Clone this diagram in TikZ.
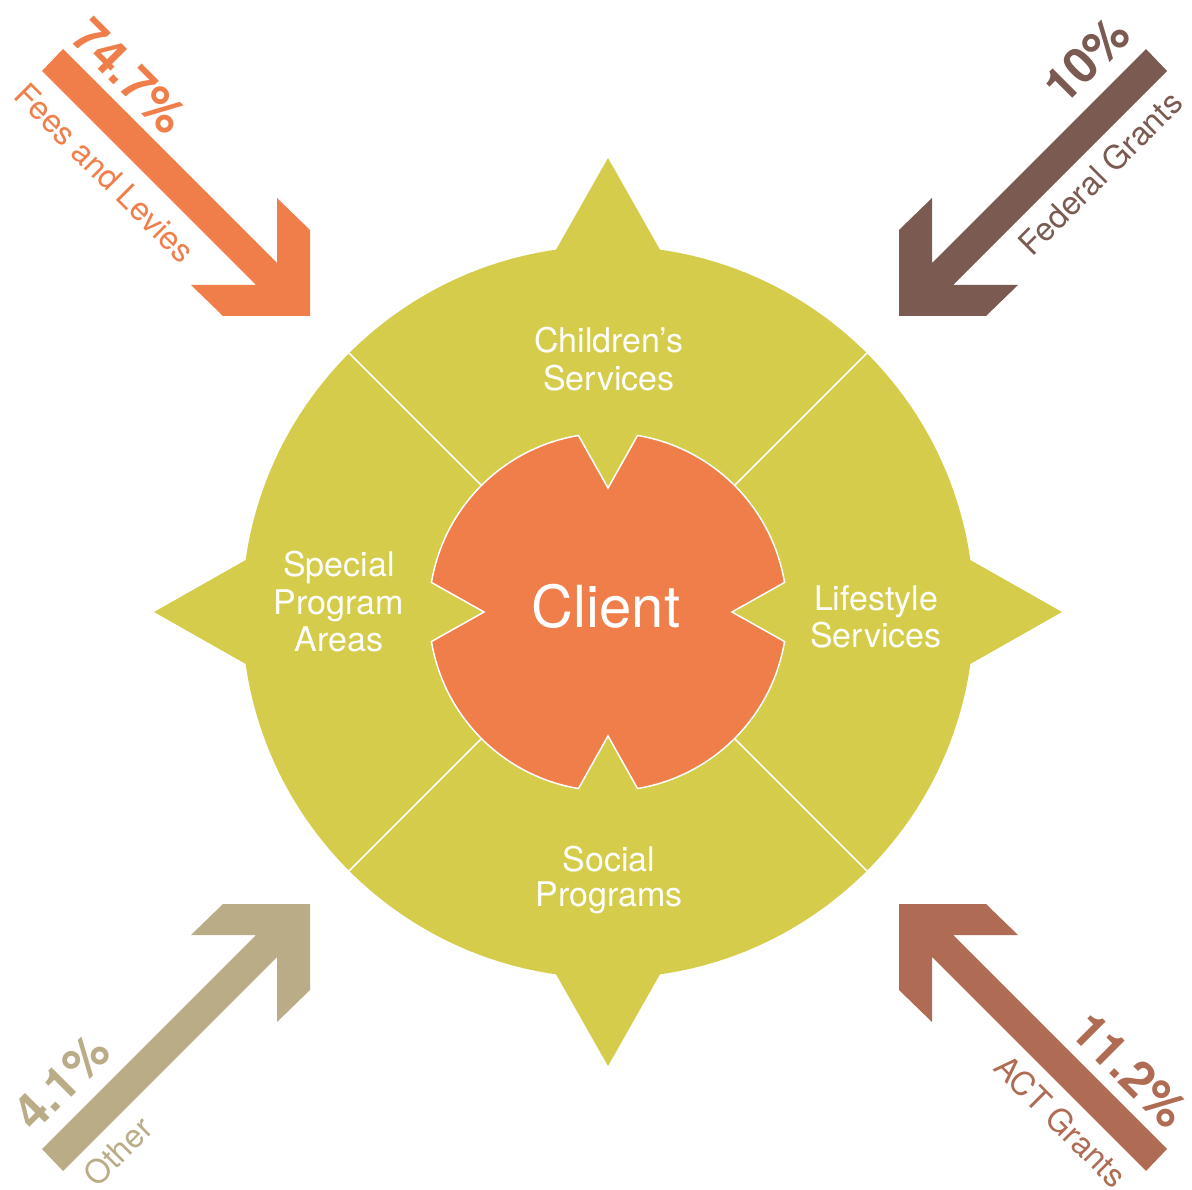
\documentclass[tikz,border=0pt]{standalone}
\usepackage{fontspec}
\setmainfont{TeX Gyre Heros}
\definecolor{cGreen}{HTML}{D4CC4A}
\definecolor{cOrange}{HTML}{F07E4B}
\definecolor{cBrown}{HTML}{7A5A51}
\definecolor{cTan}{HTML}{BBAC88}
\definecolor{cRust}{HTML}{AF6B53}
\begin{document}
\begin{tikzpicture}[x=1pt,y=-1pt,
  lbl/.style={text=white, align=center, inner sep=0pt, font=\fontsize{34}{37.5}\selectfont},
  pct/.style={inner sep=0pt, font=\bfseries\fontsize{49}{49}\selectfont},
  src/.style={inner sep=0pt, font=\fontsize{32.5}{32.5}\selectfont},
  divider/.style={white, line width=1.5pt}]
\useasboundingbox (0,0) rectangle (1192,1190);
% source arrows
\fill[cOrange] (63,49) -- (277,263) -- (277,198) -- (310,230) -- (310,316) -- (223,316) -- (191,285) -- (256,285) -- (42,71) -- cycle;
\fill[cBrown] (1146,49) -- (932,263) -- (932,198) -- (899,230) -- (899,316) -- (986,316) -- (1018,285) -- (953,285) -- (1167,71) -- cycle;
\fill[cTan] (63,1171) -- (277,957) -- (277,1022) -- (310,990) -- (310,904) -- (223,904) -- (191,935) -- (256,935) -- (42,1149) -- cycle;
\fill[cRust] (1146,1171) -- (932,957) -- (932,1022) -- (899,990) -- (899,904) -- (986,904) -- (1018,935) -- (953,935) -- (1167,1149) -- cycle;
% arrow labels
\node[pct, text=cOrange, rotate=-45] (p1) at (129.5,76.5) {74.7\%};
\node[src, text=cOrange, rotate=-45] (s1) at (105,173) {Fees and Levies};
\node[pct, text=cBrown, rotate=45] (p2) at (1086.5,60) {10\%};
\node[src, text=cBrown, rotate=45] (s2) at (1100,173.3) {Federal Grants};
\node[pct, text=cTan, rotate=45] (p3) at (61.7,1082.5) {4.1\%};
\node[src, text=cTan, rotate=45] (s3) at (118,1151.5) {Other};
\node[pct, text=cRust, rotate=-45] (p4) at (1130,1070) {11.2\%};
\node[src, text=cRust, rotate=-45] (s4) at (1061,1121) {ACT Grants};
% central wheel
\begin{scope}[shift={(608,612)}]
  \fill[cGreen] (0,0) circle[radius=366];
  \foreach \a in {0,90,180,270}
    \fill[cGreen, rotate=\a] (-64.6,-340) -- (0,-454) -- (64.6,-340) -- cycle;
  \foreach \a in {45,135,225,315}
    \draw[divider] (\a:178) -- (\a:366);
  \filldraw[fill=cOrange, draw=white, line width=1.5pt]
    (99.5:179) arc[start angle=99.5, end angle=170.5, radius=179] -- (180:124)
    -- (189.5:179) arc[start angle=189.5, end angle=260.5, radius=179] -- (270:124)
    -- (279.5:179) arc[start angle=279.5, end angle=350.5, radius=179] -- (0:124)
    -- (9.5:179) arc[start angle=9.5, end angle=80.5, radius=179] -- (90:124) -- cycle;
\end{scope}
% section labels
\node[lbl] (children) at (609,359) {Children’s\\Services};
\node[lbl] (special) at (339,602) {Special\\Program\\Areas};
\node[lbl] (lifestyle) at (876,617) {Lifestyle\\Services};
\node[lbl, font=\fontsize{34}{35}\selectfont] (social) at (609,880) {Social\\Programs};
\node[text=white, inner sep=0pt, font=\fontsize{58}{58}\selectfont] (client) at (606,606) {Client};
\end{tikzpicture}
\end{document}
